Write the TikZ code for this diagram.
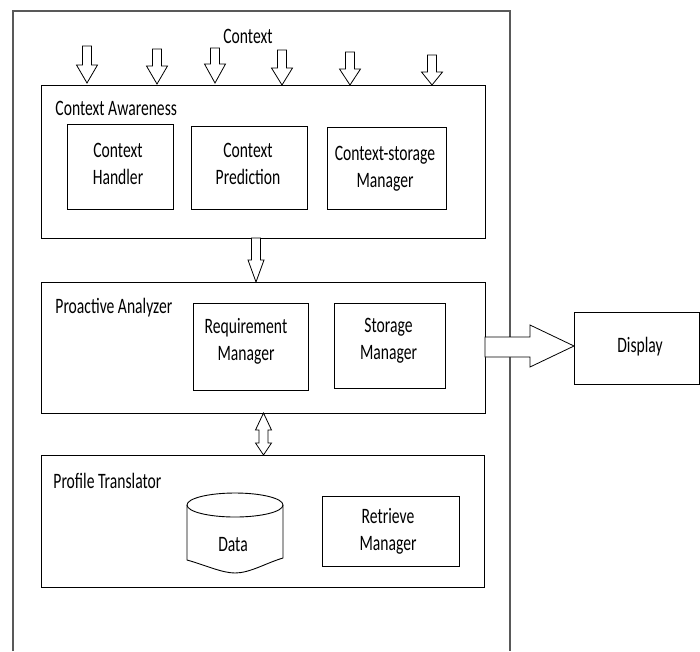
\documentclass[tikz,border=0pt]{standalone}
\usepackage{fontspec}
\setmainfont{Carlito}[FakeStretch=0.71]
\begin{document}
\begin{tikzpicture}[x=1pt,y=-1pt,line width=0.9pt,
  txt/.style={font=\fontsize{22}{27}\selectfont,inner sep=0pt,align=center},
  box/.style={draw,rectangle,inner sep=0pt},
  lbl/.style={anchor=west,txt},
  blk/.style={draw,fill=white,line width=0.8pt,line join=miter},
  outer/.style={draw=black!65,line width=1.3pt}]
\useasboundingbox (0,0) rectangle (700,651);

% block arrow pointing down: centre x, shaft top, head base, tip
\newcommand\blkdown[4]{%
  \draw[blk] ({#1-4.5},#2) -- ({#1+4.5},#2) -- ({#1+4.5},#3) -- ({#1+10.5},#3)
    -- (#1,#4) -- ({#1-10.5},#3) -- ({#1-4.5},#3) -- cycle;}

% outer frame, open at the bottom
\draw[outer] (13,651) -- (13,11) -- (510,11) -- (510,651);

% the three panels
\node[box,minimum width=444pt,minimum height=153pt] (aw) at (263,161.5) {};
\node[box,minimum width=444pt,minimum height=131pt] (pa) at (263,347.5) {};
\node[box,minimum width=443pt,minimum height=132pt] (pt) at (263,521) {};

\node[lbl] (awl) at (55,108) {Context Awareness};
\node[lbl] (pal) at (55,308) {Proactive Analyzer};
\node[lbl] (ptl) at (53,481) {Profile Translator};

% context awareness components
\node[box,minimum width=106pt,minimum height=85pt] (ch) at (120,166.5) {};
\node[box,minimum width=116pt,minimum height=83pt] (cp) at (249,167.5) {};
\node[box,minimum width=119pt,minimum height=82pt] (cs) at (386.5,168) {};
\node[txt] (cht) at (118,163.5) {Context\\Handler};
\node[txt] (cpt) at (248,163.5) {Context\\Prediction};
\node[txt] (cst) at (385,168.5) {Context-storage\\Manager};

% proactive analyzer components
\node[box,minimum width=115pt,minimum height=87pt] (rm) at (250.5,346.5) {};
\node[box,minimum width=111pt,minimum height=85pt] (sm) at (389.5,345.5) {};
\node[txt] (rmt) at (246,341.5) {Requirement\\Manager};
\node[txt] (smt) at (388.5,340.5) {Storage\\Manager};

% profile translator components
\node[box,minimum width=137pt,minimum height=70pt] (rt) at (390.5,531) {};
\node[txt] (rtt) at (388,531) {Retrieve\\Manager};
\draw (187,505) -- (187,560) .. controls (205,565) and (222,573) .. (235,573)
  .. controls (250,573) and (266,563) .. (283,558) -- (283,505);
\draw (235,505) ellipse [x radius=48pt,y radius=12pt];
\node[txt] (data) at (233,545) {Data};

% display
\node[box,minimum width=125pt,minimum height=72pt] (disp) at (636.5,348) {};
\node[txt] (dispt) at (640,347) {Display};

% incoming context
\node[txt] (ctx) at (248,36) {Context};
\blkdown{87}{46}{65}{83}
\blkdown{157}{49}{66}{84}
\blkdown{215}{48}{64}{83}
\blkdown{282}{50}{68}{85}
\blkdown{350}{52}{69}{85}
\blkdown{432}{55}{72}{85}

% awareness to analyzer
\draw[blk] (251.5,238) -- (260.5,238) -- (260.5,260) -- (264,260) -- (256,282)
  -- (248,260) -- (251.5,260) -- cycle;

% analyzer <-> translator
\draw[blk] (263.5,413) -- (271.5,430) -- (268,430) -- (268,443) -- (271.5,443)
  -- (263.5,455) -- (255.5,443) -- (259,443) -- (259,430) -- (255.5,430) -- cycle;

% analyzer to display
\draw[blk] (485,337) -- (530,337) -- (530,325) -- (574,346) -- (530,367)
  -- (530,357) -- (485,357) -- cycle;
\end{tikzpicture}
\end{document}
